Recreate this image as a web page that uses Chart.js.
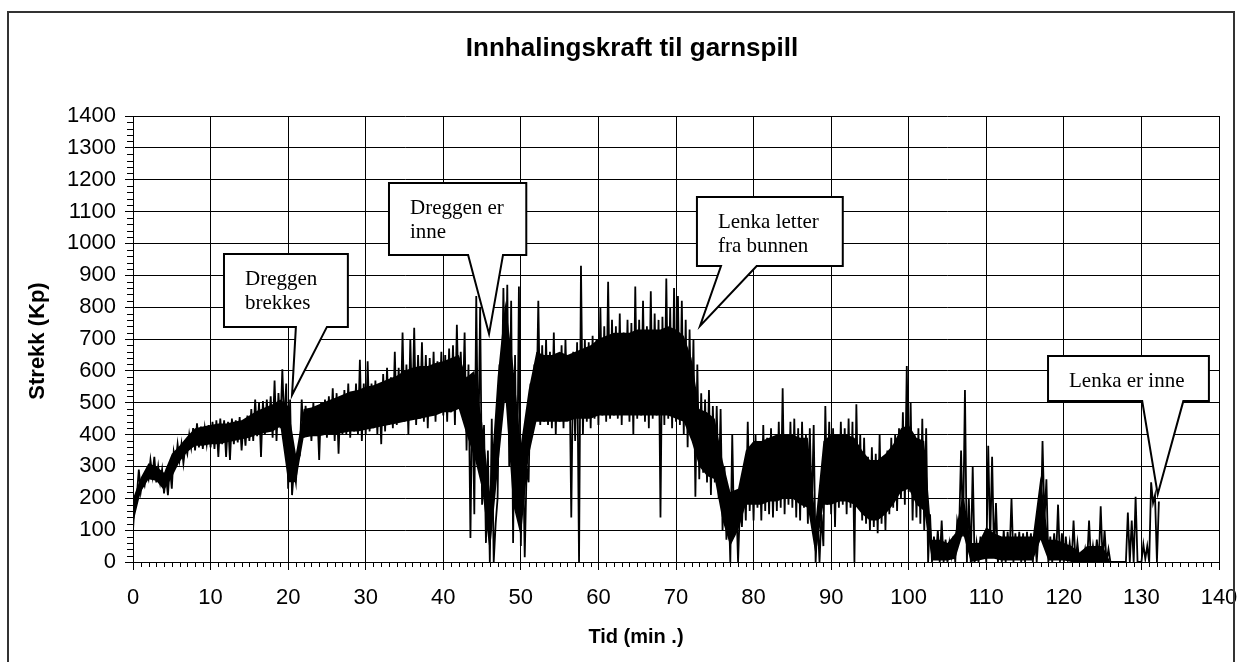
<!DOCTYPE html>
<html><head><meta charset="utf-8">
<script src="https://cdn.jsdelivr.net/npm/chart.js@4.4.1/dist/chart.umd.min.js"></script>
<style>html,body{margin:0;padding:0;background:#fff;overflow:hidden}canvas{display:block}</style>
</head><body>
<canvas id="c" width="1243" height="662"></canvas>
<script>
// ---- data ----
const bucketMinutes = 0.5;   // each bucket covers half a minute
// lowest value in each half-minute bucket (Kp), starting at t = 0
const lowValues = [
 100,210,220,240,260,270,250,250,215,210,
 230,310,320,310,340,360,350,360,355,370,
 360,355,330,370,330,320,370,375,350,365,
 380,380,395,330,400,410,390,380,420,430,
 230,210,250,340,390,400,380,410,320,400,
 390,400,380,340,400,400,390,410,400,380,
 400,410,420,400,370,410,430,420,430,440,
 440,400,450,430,450,440,420,460,440,470,
 460,440,470,430,480,470,350,75,150,300,
 180,60,0,0,200,450,500,300,60,150,
 50,15,250,420,450,430,440,430,420,400,
 440,420,450,140,380,0,400,440,420,450,
 430,460,440,450,460,450,430,470,440,400,
 450,460,440,420,450,460,140,430,450,420,
 440,430,400,360,400,205,260,280,250,210,
 250,200,100,70,0,80,0,110,130,160,
 130,170,130,160,150,140,160,170,150,180,
 170,140,130,170,120,150,0,0,50,180,
 150,110,170,180,150,170,0,180,130,120,
 100,110,90,120,100,150,170,160,200,180,
 220,130,140,120,100,0,0,10,0,0,
 0,20,0,100,80,0,0,0,0,10,
 0,60,20,0,0,0,20,0,10,0,
 0,10,0,0,80,130,0,0,10,0,
 0,10,0,0,0,0,0,0,0,0,
 0,0,0,0,0,0,0,0,0,0,
 0,10,0,185,0
];
// highest value in each half-minute bucket (Kp)
const highValues = [
 200,290,260,280,320,330,300,290,270,300,
 345,370,370,365,400,420,435,425,420,430,
 440,445,450,445,440,450,445,455,440,460,
 480,510,500,505,510,520,570,530,605,560,
 510,290,350,510,490,480,500,480,500,510,
 520,545,530,520,540,560,530,560,635,560,
 630,560,570,545,590,610,580,660,610,720,
 620,700,735,650,690,650,640,660,630,660,
 650,670,680,745,660,720,620,560,835,800,
 430,350,450,120,620,860,870,820,650,865,
 400,300,560,620,820,680,700,660,720,650,
 680,700,650,660,690,930,700,690,710,700,
 800,740,880,760,740,780,720,760,750,865,
 760,820,740,850,780,760,770,890,800,860,
 835,820,760,730,700,620,530,510,540,490,
 490,480,300,230,400,210,180,290,440,360,
 400,370,430,390,420,380,440,545,400,440,
 450,420,440,400,420,430,140,150,490,440,
 420,400,440,420,450,440,495,400,390,330,
 360,340,400,330,350,390,400,420,470,615,
 500,400,420,450,420,150,80,100,130,70,
 60,80,130,350,540,200,300,60,80,70,
 365,330,185,80,100,95,200,90,95,90,
 95,90,85,90,380,260,80,90,180,90,
 80,60,130,60,10,40,130,50,70,175,
 100,40,0,0,0,0,155,130,205,0,
 55,50,250,210,190
];
// dense solid core of the trace, one value per minute (Kp), starting at t = 0
const coreLowValues = [
 120,220,260,255,225,265,315,345,365,365,
 370,370,375,380,385,390,400,405,410,425,
 250,250,390,395,395,400,400,405,410,410,
 415,420,425,430,435,440,445,450,455,460,
 470,470,480,400,330,230,30,280,520,180,
 80,330,440,440,440,440,440,450,450,450,
 460,460,460,460,460,460,460,460,460,460,
 450,440,380,300,270,260,130,50,100,180,
 180,180,190,190,200,200,180,170,20,180,
 180,190,190,180,150,130,130,150,180,220,
 230,180,160,5,5,5,10,90,0,5,
 10,10,5,5,5,5,5,70,5,5,
 5,0,0,0,0,0,0,0,0,0,
 null,null,null
];
const coreHighValues = [
 200,265,310,300,280,340,365,395,420,425,
 430,435,435,440,445,460,475,485,495,510,
 490,340,480,485,495,505,515,525,535,540,
 550,555,565,575,585,600,610,615,615,625,
 630,640,650,580,600,440,220,580,820,620,
 370,540,660,650,650,660,650,660,670,680,
 700,710,720,720,720,730,730,730,730,740,
 730,710,640,480,470,450,320,220,230,350,
 380,380,390,400,400,400,390,390,130,380,
 400,400,400,390,350,320,320,340,370,420,
 430,390,380,70,70,60,90,220,60,60,
 110,90,80,80,80,80,80,270,70,70,
 60,50,30,50,50,50,0,0,0,0,
 null,null,null
];
const coreMinutes = 1;
const xTickValues = [0,10,20,30,40,50,60,70,80,90,100,110,120,130,140];
const yTickValues = [0,100,200,300,400,500,600,700,800,900,1000,1100,1200,1300,1400];
const xMinorStep = 1;
const yMinorStep = 20;
const chartTitle = 'Innhalingskraft til garnspill';
const xAxisTitle = 'Tid (min .)';
const yAxisTitle = 'Strekk (Kp)';
// callouts: box and pointer given in data units (minutes, Kp)
const callouts = [
  {lines:['Dreggen','brekkes'], x0:11.73, x1:27.7, yTop:967, yBot:738, b0:21.0, b1:25.0, tipX:20.5, tipY:524},
  {lines:['Dreggen er','inne'], x0:33.0, x1:50.7, yTop:1190, yBot:964, b0:43.2, b1:47.7, tipX:45.9, tipY:716},
  {lines:['Lenka letter','fra bunnen'], x0:72.7, x1:91.5, yTop:1146, yBot:929, b0:75.8, b1:80.4, tipX:73.1, tipY:741},
  {lines:['Lenka er inne'], x0:117.96, x1:138.7, yTop:647, yBot:505, b0:130.1, b1:135.4, tipX:132.1, tipY:213}
];

// ---- build the trace: zig-zag between bucket low and high, plus solid core ----
const trace = [];
lowValues.forEach((lo, i) => {
  const t = i * bucketMinutes;
  trace.push({x: t, y: lo});
  trace.push({x: t + bucketMinutes / 2, y: highValues[i]});
});
const coreUpper = coreHighValues.map((v, i) => ({x: i * coreMinutes, y: v}));
const coreLower = coreLowValues.map((v, i) => ({x: i * coreMinutes, y: v}));

const SANS = "'Liberation Sans', Arial, sans-serif";
const SERIF = "'Liberation Serif', 'Times New Roman', serif";

const decor = {
  id: 'decor',
  beforeDraw(chart) {
    const ctx = chart.ctx;
    ctx.save();
    ctx.fillStyle = '#fff';
    ctx.fillRect(0, 0, chart.width, chart.height);
    ctx.restore();
  },
  afterDatasetsDraw(chart) {
    const {ctx, scales: {x, y}} = chart;
    ctx.save();
    callouts.forEach(c => {
      const L = x.getPixelForValue(c.x0), R = x.getPixelForValue(c.x1);
      const T = y.getPixelForValue(c.yTop), B = y.getPixelForValue(c.yBot);
      const p0 = x.getPixelForValue(c.b0), p1 = x.getPixelForValue(c.b1);
      const tx = x.getPixelForValue(c.tipX), ty = y.getPixelForValue(c.tipY);
      ctx.beginPath();
      ctx.moveTo(L, T); ctx.lineTo(R, T); ctx.lineTo(R, B);
      ctx.lineTo(p1, B); ctx.lineTo(tx, ty); ctx.lineTo(p0, B);
      ctx.lineTo(L, B); ctx.closePath();
      ctx.fillStyle = '#fff'; ctx.fill();
      ctx.lineWidth = 2; ctx.strokeStyle = '#000'; ctx.lineJoin = 'miter'; ctx.stroke();
      ctx.fillStyle = '#000';
      ctx.font = '21px ' + SERIF;
      ctx.textAlign = 'left'; ctx.textBaseline = 'alphabetic';
      c.lines.forEach((s, k) => ctx.fillText(s, L + 21, T + 31 + k * 24));
    });
    ctx.restore();
  },
  afterDraw(chart) {
    const {ctx, scales: {x, y}} = chart;
    ctx.save();
    // minor ticks
    ctx.strokeStyle = '#000'; ctx.lineWidth = 1;
    ctx.beginPath();
    for (let v = x.min; v <= x.max; v += xMinorStep) {
      if (xTickValues.includes(v)) continue;
      const px = Math.round(x.getPixelForValue(v)) + 0.5;
      ctx.moveTo(px, y.bottom); ctx.lineTo(px, y.bottom + 5);
    }
    for (let v = y.min; v <= y.max; v += yMinorStep) {
      if (yTickValues.includes(v)) continue;
      const py = Math.round(y.getPixelForValue(v)) + 0.5;
      ctx.moveTo(x.left - 6, py); ctx.lineTo(x.left, py);
    }
    ctx.stroke();
    // titles
    ctx.fillStyle = '#000';
    ctx.textAlign = 'center'; ctx.textBaseline = 'middle';
    ctx.font = 'bold 26px ' + SANS;
    ctx.fillText(chartTitle, 632, 49);
    ctx.font = 'bold 20px ' + SANS;
    ctx.fillText(xAxisTitle, 636, 637);
    ctx.save();
    ctx.translate(38, 341); ctx.rotate(-Math.PI / 2);
    ctx.font = 'bold 22px ' + SANS;
    ctx.fillText(yAxisTitle, 0, 0);
    ctx.restore();
    // outer frame
    ctx.strokeStyle = '#333'; ctx.lineWidth = 2;
    ctx.strokeRect(8, 12, 1226, 700);
    ctx.restore();
  }
};

const plain = v => String(v);

new Chart(document.getElementById('c'), {
  type: 'line',
  data: { datasets: [
    { data: trace, borderColor: '#000', borderWidth: 1.8, pointRadius: 0, tension: 0, fill: false },
    { data: coreUpper, borderColor: '#000', borderWidth: 0, pointRadius: 0, tension: 0,
      fill: '+1', backgroundColor: '#000' },
    { data: coreLower, borderColor: '#000', borderWidth: 0, pointRadius: 0, tension: 0, fill: false }
  ]},
  options: {
    responsive: false, animation: false, devicePixelRatio: 1,
    parsing: false, normalized: true,
    layout: { padding: { top: 116, right: 24, left: 0, bottom: 0 } },
    plugins: { legend: { display: false }, tooltip: { enabled: false }, title: { display: false } },
    scales: {
      x: {
        type: 'linear', min: 0, max: 140,
        afterBuildTicks: s => { s.ticks = xTickValues.map(v => ({value: v})); },
        afterFit: s => { s.height = 100; s.paddingLeft = 0; s.paddingRight = 0; },
        grid: { color: '#000', lineWidth: 1, tickLength: 8, tickColor: '#000' },
        border: { color: '#000', width: 1 },
        ticks: { color: '#000', font: { family: SANS, size: 22 }, padding: 15, maxRotation: 0, autoSkip: false, callback: plain }
      },
      y: {
        type: 'linear', min: 0, max: 1400,
        afterBuildTicks: s => { s.ticks = yTickValues.map(v => ({value: v})); },
        afterFit: s => { s.width = 133; s.paddingTop = 0; s.paddingBottom = 0; },
        grid: { color: '#000', lineWidth: 1, tickLength: 8, tickColor: '#000' },
        border: { color: '#000', width: 1 },
        ticks: { color: '#000', font: { family: SANS, size: 22 }, padding: 9, autoSkip: false, callback: plain }
      }
    }
  },
  plugins: [decor]
});
</script>
</body></html>
